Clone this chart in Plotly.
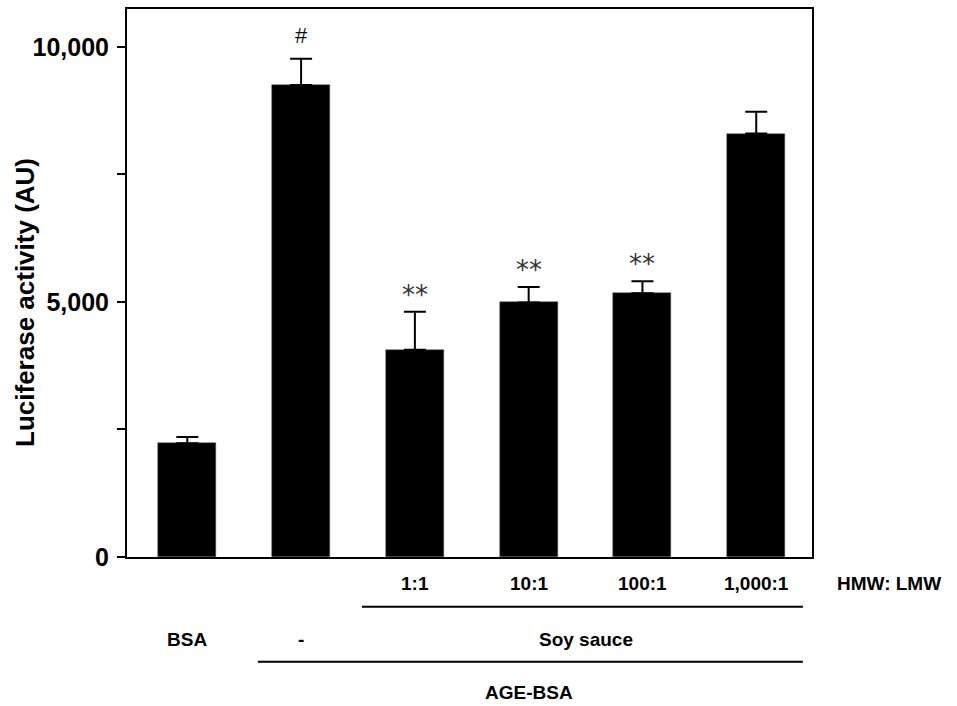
import plotly.graph_objects as go

categories = ["BSA", "AGE-BSA", "1:1", "10:1", "100:1", "1,000:1"]
values = [2230, 9250, 4060, 4990, 5170, 8300]
errors = [120, 515, 745, 300, 235, 425]
marks = ["", "#", "**", "**", "**", ""]
ratio_labels = ["", "", "1:1", "10:1", "100:1", "1,000:1"]
ytick_vals = [0, 2500, 5000, 7500, 10000]
ytick_text = ["0", "", "5,000", "", "10,000"]

FONT = "Arial, Liberation Sans, sans-serif"
x = list(range(len(categories)))

fig = go.Figure()
fig.add_trace(go.Bar(
    x=x, y=values, width=0.51,
    marker=dict(color="black", line=dict(color="#555", width=0.5)),
    error_y=dict(type="data", array=errors, arrayminus=[0]*len(errors),
                 symmetric=False, color="black", thickness=2, width=11),
    showlegend=False,
))

LBL = dict(family=FONT, size=19, color="black", weight="bold")
ann = []
for i, (m, v, e) in enumerate(zip(marks, values, errors)):
    if m == "#":
        ann.append(dict(x=i, y=v + e, xref="x", yref="y", text=m, showarrow=False,
                        yanchor="bottom", yshift=9,
                        font=dict(family=FONT, size=22, color="#111")))
    elif m:
        ann.append(dict(x=i, y=v + e, xref="x", yref="y", text=m, showarrow=False,
                        yanchor="bottom", yshift=0,
                        font=dict(family="DejaVu Sans, sans-serif", size=26, color="#333")))
for i, t in enumerate(ratio_labels):
    if t:
        ann.append(dict(x=i, y=-0.048, xref="x", yref="paper", text=t, yanchor="middle",
                        xanchor="center", showarrow=False, font=LBL))
ann.append(dict(x=1.034, y=-0.048, xref="paper", yref="paper", text="HMW: LMW",
                xanchor="left", yanchor="middle", showarrow=False, font=LBL))
ann.append(dict(x=0, y=-0.151, xref="x", yref="paper", text="BSA", yanchor="middle",
                xanchor="center", showarrow=False, font=LBL))
ann.append(dict(x=1, y=-0.151, xref="x", yref="paper", text="-", yanchor="middle",
                xanchor="center", showarrow=False, font=LBL))
ann.append(dict(x=3.5, y=-0.151, xref="x", yref="paper", text="Soy sauce", yanchor="middle",
                xanchor="center", showarrow=False, font=LBL))
ann.append(dict(x=3.0, y=-0.247, xref="x", yref="paper", text="AGE-BSA", yanchor="middle",
                xanchor="center", showarrow=False, font=LBL))
ann.append(dict(x=-0.150, y=0.464, xref="paper", yref="paper", text="Luciferase activity (AU)",
                textangle=-90, xanchor="center", yanchor="middle", showarrow=False,
                font=dict(family=FONT, size=26, color="black", weight="bold")))

shapes = [
    dict(type="line", xref="x", yref="paper", x0=1.535, x1=5.41, y0=-0.091, y1=-0.091,
         line=dict(color="black", width=2)),
    dict(type="line", xref="x", yref="paper", x0=0.62, x1=5.41, y0=-0.191, y1=-0.191,
         line=dict(color="black", width=2)),
]

fig.update_layout(
    width=957, height=706,
    margin=dict(l=127, r=145, t=7, b=149),
    plot_bgcolor="white", paper_bgcolor="white",
    font=dict(family=FONT, color="black"),
    annotations=ann, shapes=shapes,
    bargap=0,
)
fig.update_xaxes(range=[-0.53, 5.49], showticklabels=False, ticks="",
                 showline=True, linecolor="black", linewidth=2, mirror=True,
                 showgrid=False, zeroline=False)
fig.update_yaxes(range=[0, 10740], tickvals=ytick_vals, ticktext=ytick_text,
                 ticks="outside", ticklen=8, tickwidth=2, tickcolor="black",
                 ticklabelstandoff=3,
                 tickfont=dict(family=FONT, size=25, color="black", weight="bold"),
                 showline=True, linecolor="black", linewidth=2, mirror=True,
                 showgrid=False, zeroline=False)

fig.write_html("out.html")
